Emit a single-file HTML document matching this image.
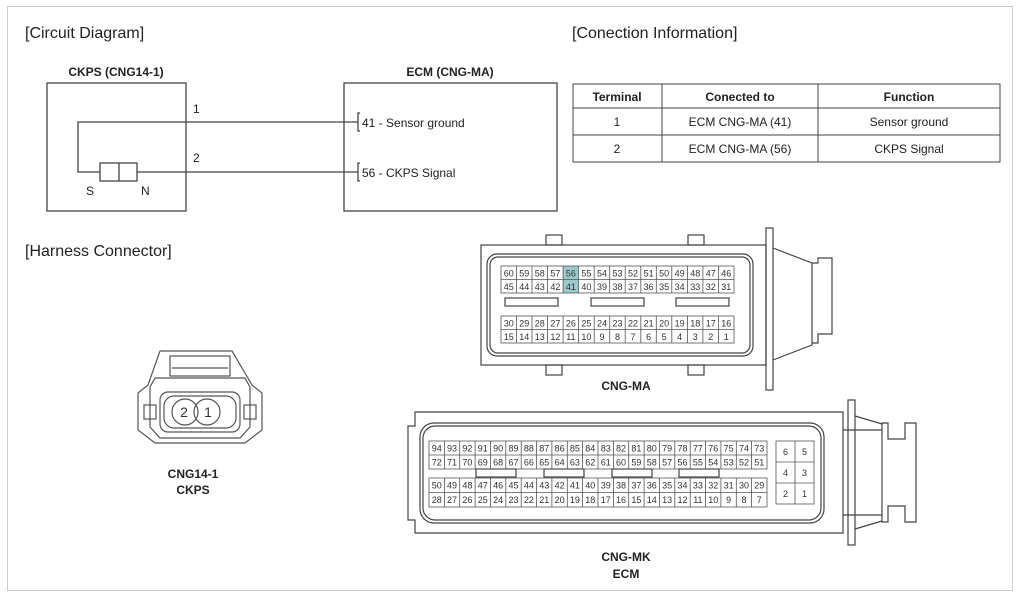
<!DOCTYPE html>
<html><head><meta charset="utf-8"><style>
html,body{margin:0;padding:0;background:#fff;}
svg{display:block;font-family:"Liberation Sans",sans-serif;}
.t{font-size:9px;fill:#333;text-anchor:middle;}
</style></head><body>
<svg width="1024" height="597" viewBox="0 0 1024 597" xmlns="http://www.w3.org/2000/svg">
<rect x="7.5" y="6.5" width="1005" height="584" fill="none" stroke="#ccc"/>
<g font-size="16" fill="#222">
<text x="25" y="38">[Circuit Diagram]</text>
<text x="572" y="38">[Conection Information]</text>
<text x="25" y="256">[Harness Connector]</text>
</g>
<g font-size="12" font-weight="bold" fill="#222" text-anchor="middle">
<text x="116" y="76">CKPS (CNG14-1)</text>
<text x="450" y="76">ECM (CNG-MA)</text>
</g>
<g fill="none" stroke="#444" stroke-width="1.3">
<rect x="47" y="83" width="139" height="128"/>
<rect x="344" y="83" width="213" height="128"/>
<polyline points="358,122 78,122 78,172 100,172"/>
<line x1="137" y1="172" x2="358" y2="172"/>
<rect x="100" y="163" width="37" height="18"/>
<line x1="119" y1="163" x2="119" y2="181"/>
<polyline points="360,113 358,113 358,131 360,131"/>
<polyline points="360,163 358,163 358,181 360,181"/>
</g>
<g font-size="12" fill="#222">
<text x="193" y="113">1</text><text x="193" y="162">2</text>
<text x="86" y="195">S</text><text x="141" y="195">N</text>
<text x="362" y="127">41 - Sensor ground</text>
<text x="362" y="177">56 - CKPS Signal</text>
</g>
<g fill="none" stroke="#444" stroke-width="1">
<rect x="573" y="84" width="427" height="78"/>
<line x1="573" y1="108" x2="1000" y2="108"/>
<line x1="573" y1="135" x2="1000" y2="135"/>
<line x1="662" y1="84" x2="662" y2="162"/>
<line x1="818" y1="84" x2="818" y2="162"/>
</g>
<g font-size="12" fill="#222" text-anchor="middle">
<text x="617" y="101" font-weight="bold">Terminal</text>
<text x="740" y="101" font-weight="bold">Conected to</text>
<text x="909" y="101" font-weight="bold">Function</text>
<text x="617" y="126">1</text><text x="740" y="126">ECM CNG-MA (41)</text><text x="909" y="126">Sensor ground</text>
<text x="617" y="153">2</text><text x="740" y="153">ECM CNG-MA (56)</text><text x="909" y="153">CKPS Signal</text>
</g>

<!-- CKPS connector -->
<g fill="none" stroke="#555" stroke-width="1.2">
<path d="M160,351 L232,351 L252,385 L262,393 L262,430 L245,443 L155,443 L138,430 L138,393 L148,385 Z"/>
<rect x="170" y="356" width="60" height="20"/>
<line x1="172" y1="368" x2="228" y2="368"/>
<path d="M155,378 L245,378 L250,387 L250,427 L240,438 L160,438 L150,427 L150,387 Z"/>
<rect x="160" y="392" width="80" height="40" rx="8"/>
<rect x="144" y="405" width="12" height="14"/>
<rect x="244" y="405" width="12" height="14"/>
<rect x="164" y="396" width="72" height="32" rx="10"/>
<circle cx="185" cy="412" r="13"/>
<circle cx="207" cy="412" r="13"/>
</g>
<g font-size="14" fill="#333" text-anchor="middle"><text x="184" y="417">2</text><text x="208" y="417">1</text></g>
<g font-size="12" font-weight="bold" fill="#222" text-anchor="middle">
<text x="193" y="478">CNG14-1</text><text x="193" y="494">CKPS</text>
<text x="626" y="390">CNG-MA</text>
<text x="626" y="561">CNG-MK</text><text x="626" y="578">ECM</text>
</g>

<!-- CNG-MA -->
<g fill="none" stroke="#444" stroke-width="1.2">
<rect x="481" y="245" width="285" height="120" fill="#fff"/>
<rect x="546" y="235" width="16" height="10"/><rect x="688" y="235" width="16" height="10"/>
<rect x="546" y="365" width="16" height="10"/><rect x="688" y="365" width="16" height="10"/>
<rect x="487" y="254" width="266" height="102" rx="10"/>
<rect x="490" y="257" width="260" height="96" rx="8"/>
<rect x="766" y="228" width="7" height="162"/>
<polyline points="773,248 812,263 812,345 773,360"/>
<polyline points="812,263 818,263 818,258 832,258 832,334 818,334 818,343 812,343"/>
<rect x="505" y="298" width="53" height="8"/><rect x="591" y="298" width="53" height="8"/><rect x="676" y="298" width="53" height="8"/>
</g>
<rect x="563" y="266" width="15" height="27" fill="#9cc9c9"/>
<g fill="none" stroke="#555" stroke-width="0.8">
<rect x="501" y="266" width="233" height="27"/><line x1="501" y1="279.5" x2="734" y2="279.5"/>
<rect x="501" y="316" width="233" height="27"/><line x1="501" y1="329.5" x2="734" y2="329.5"/>
<path d="M516.5,266v27M532,266v27M547.6,266v27M563.1,266v27M578.6,266v27M594.2,266v27M609.7,266v27M625.2,266v27M640.8,266v27M656.3,266v27M671.8,266v27M687.4,266v27M702.9,266v27M718.4,266v27"/>
<path d="M516.5,316v27M532,316v27M547.6,316v27M563.1,316v27M578.6,316v27M594.2,316v27M609.7,316v27M625.2,316v27M640.8,316v27M656.3,316v27M671.8,316v27M687.4,316v27M702.9,316v27M718.4,316v27"/>
</g>
<g class="t">
<text x="508.8" y="276.5">60</text><text x="524.3" y="276.5">59</text><text x="539.8" y="276.5">58</text><text x="555.4" y="276.5">57</text><text x="570.9" y="276.5">56</text><text x="586.4" y="276.5">55</text><text x="602" y="276.5">54</text><text x="617.5" y="276.5">53</text><text x="633" y="276.5">52</text><text x="648.6" y="276.5">51</text><text x="664.1" y="276.5">50</text><text x="679.6" y="276.5">49</text><text x="695.2" y="276.5">48</text><text x="710.7" y="276.5">47</text><text x="726.2" y="276.5">46</text>
<text x="508.8" y="290">45</text><text x="524.3" y="290">44</text><text x="539.8" y="290">43</text><text x="555.4" y="290">42</text><text x="570.9" y="290">41</text><text x="586.4" y="290">40</text><text x="602" y="290">39</text><text x="617.5" y="290">38</text><text x="633" y="290">37</text><text x="648.6" y="290">36</text><text x="664.1" y="290">35</text><text x="679.6" y="290">34</text><text x="695.2" y="290">33</text><text x="710.7" y="290">32</text><text x="726.2" y="290">31</text>
<text x="508.8" y="326.5">30</text><text x="524.3" y="326.5">29</text><text x="539.8" y="326.5">28</text><text x="555.4" y="326.5">27</text><text x="570.9" y="326.5">26</text><text x="586.4" y="326.5">25</text><text x="602" y="326.5">24</text><text x="617.5" y="326.5">23</text><text x="633" y="326.5">22</text><text x="648.6" y="326.5">21</text><text x="664.1" y="326.5">20</text><text x="679.6" y="326.5">19</text><text x="695.2" y="326.5">18</text><text x="710.7" y="326.5">17</text><text x="726.2" y="326.5">16</text>
<text x="508.8" y="340">15</text><text x="524.3" y="340">14</text><text x="539.8" y="340">13</text><text x="555.4" y="340">12</text><text x="570.9" y="340">11</text><text x="586.4" y="340">10</text><text x="602" y="340">9</text><text x="617.5" y="340">8</text><text x="633" y="340">7</text><text x="648.6" y="340">6</text><text x="664.1" y="340">5</text><text x="679.6" y="340">4</text><text x="695.2" y="340">3</text><text x="710.7" y="340">2</text><text x="726.2" y="340">1</text>
</g>

<!-- CNG-MK -->
<g fill="none" stroke="#444" stroke-width="1.2">
<path d="M415,412 L843,412 L843,533 L415,533 L415,520 L408,520 L408,426 L415,426 Z" fill="#fff"/>
<rect x="420" y="423" width="404" height="100" rx="14"/>
<rect x="423" y="426" width="398" height="94" rx="12"/>
<rect x="848" y="400" width="7" height="145"/>
<path d="M855,416 L882,424 M843,430 L882,430 M855,529 L882,521 M843,515 L882,515"/>
<polygon points="882,423 888,423 888,439 905,439 905,423 916,423 916,522 905,522 905,506 888,506 888,522 882,522"/>
<rect x="476" y="469" width="40" height="8"/><rect x="544" y="469" width="40" height="8"/><rect x="612" y="469" width="40" height="8"/><rect x="679" y="469" width="40" height="8"/>
</g>
<g fill="none" stroke="#555" stroke-width="0.8">
<rect x="429" y="441" width="338" height="28"/><line x1="429" y1="455" x2="767" y2="455"/>
<rect x="429" y="478" width="338" height="29"/><line x1="429" y1="492.5" x2="767" y2="492.5"/>
<path d="M444.4,441v28M459.7,441v28M475.1,441v28M490.5,441v28M505.8,441v28M521.2,441v28M536.5,441v28M551.9,441v28M567.3,441v28M582.6,441v28M598,441v28M613.4,441v28M628.7,441v28M644.1,441v28M659.5,441v28M674.8,441v28M690.2,441v28M705.5,441v28M720.9,441v28M736.3,441v28M751.6,441v28"/>
<path d="M444.4,478v29M459.7,478v29M475.1,478v29M490.5,478v29M505.8,478v29M521.2,478v29M536.5,478v29M551.9,478v29M567.3,478v29M582.6,478v29M598,478v29M613.4,478v29M628.7,478v29M644.1,478v29M659.5,478v29M674.8,478v29M690.2,478v29M705.5,478v29M720.9,478v29M736.3,478v29M751.6,478v29"/>
<rect x="776" y="441" width="38" height="63"/><line x1="795" y1="441" x2="795" y2="504"/><line x1="776" y1="462" x2="814" y2="462"/><line x1="776" y1="483" x2="814" y2="483"/>
</g>
<g class="t">
<text x="436.7" y="451.5">94</text><text x="452" y="451.5">93</text><text x="467.4" y="451.5">92</text><text x="482.8" y="451.5">91</text><text x="498.1" y="451.5">90</text><text x="513.5" y="451.5">89</text><text x="528.9" y="451.5">88</text><text x="544.2" y="451.5">87</text><text x="559.6" y="451.5">86</text><text x="574.9" y="451.5">85</text><text x="590.3" y="451.5">84</text><text x="605.7" y="451.5">83</text><text x="621" y="451.5">82</text><text x="636.4" y="451.5">81</text><text x="651.8" y="451.5">80</text><text x="667.1" y="451.5">79</text><text x="682.5" y="451.5">78</text><text x="697.9" y="451.5">77</text><text x="713.2" y="451.5">76</text><text x="728.6" y="451.5">75</text><text x="744" y="451.5">74</text><text x="759.3" y="451.5">73</text>
<text x="436.7" y="465.5">72</text><text x="452" y="465.5">71</text><text x="467.4" y="465.5">70</text><text x="482.8" y="465.5">69</text><text x="498.1" y="465.5">68</text><text x="513.5" y="465.5">67</text><text x="528.9" y="465.5">66</text><text x="544.2" y="465.5">65</text><text x="559.6" y="465.5">64</text><text x="574.9" y="465.5">63</text><text x="590.3" y="465.5">62</text><text x="605.7" y="465.5">61</text><text x="621" y="465.5">60</text><text x="636.4" y="465.5">59</text><text x="651.8" y="465.5">58</text><text x="667.1" y="465.5">57</text><text x="682.5" y="465.5">56</text><text x="697.9" y="465.5">55</text><text x="713.2" y="465.5">54</text><text x="728.6" y="465.5">53</text><text x="744" y="465.5">52</text><text x="759.3" y="465.5">51</text>
<text x="436.7" y="488.5">50</text><text x="452" y="488.5">49</text><text x="467.4" y="488.5">48</text><text x="482.8" y="488.5">47</text><text x="498.1" y="488.5">46</text><text x="513.5" y="488.5">45</text><text x="528.9" y="488.5">44</text><text x="544.2" y="488.5">43</text><text x="559.6" y="488.5">42</text><text x="574.9" y="488.5">41</text><text x="590.3" y="488.5">40</text><text x="605.7" y="488.5">39</text><text x="621" y="488.5">38</text><text x="636.4" y="488.5">37</text><text x="651.8" y="488.5">36</text><text x="667.1" y="488.5">35</text><text x="682.5" y="488.5">34</text><text x="697.9" y="488.5">33</text><text x="713.2" y="488.5">32</text><text x="728.6" y="488.5">31</text><text x="744" y="488.5">30</text><text x="759.3" y="488.5">29</text>
<text x="436.7" y="503">28</text><text x="452" y="503">27</text><text x="467.4" y="503">26</text><text x="482.8" y="503">25</text><text x="498.1" y="503">24</text><text x="513.5" y="503">23</text><text x="528.9" y="503">22</text><text x="544.2" y="503">21</text><text x="559.6" y="503">20</text><text x="574.9" y="503">19</text><text x="590.3" y="503">18</text><text x="605.7" y="503">17</text><text x="621" y="503">16</text><text x="636.4" y="503">15</text><text x="651.8" y="503">14</text><text x="667.1" y="503">13</text><text x="682.5" y="503">12</text><text x="697.9" y="503">11</text><text x="713.2" y="503">10</text><text x="728.6" y="503">9</text><text x="744" y="503">8</text><text x="759.3" y="503">7</text>
<text x="785.5" y="455">6</text><text x="804.5" y="455">5</text><text x="785.5" y="476">4</text><text x="804.5" y="476">3</text><text x="785.5" y="497">2</text><text x="804.5" y="497">1</text>
</g>
</svg>
</body></html>
